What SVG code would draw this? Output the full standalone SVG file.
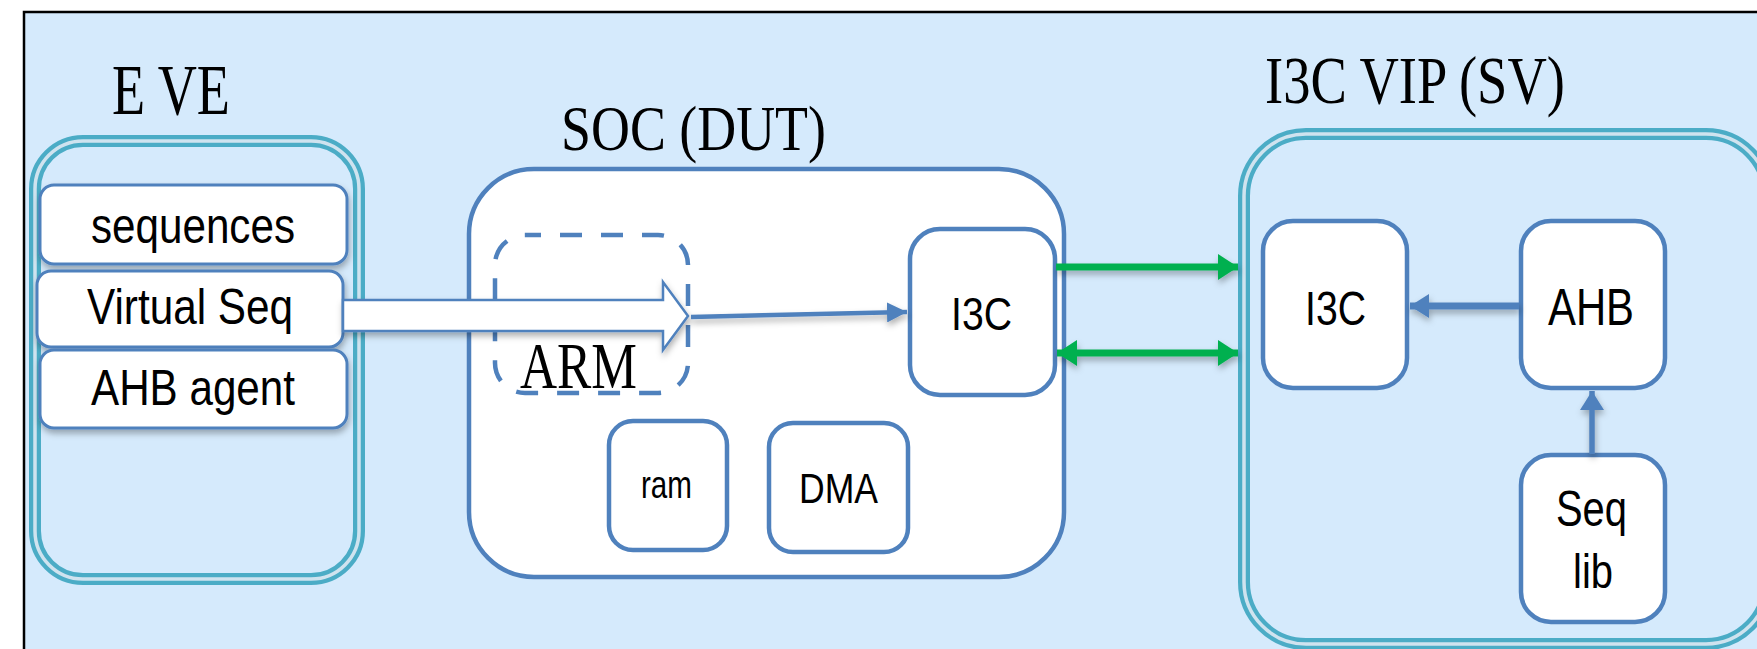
<svg xmlns="http://www.w3.org/2000/svg" width="1757" height="649" viewBox="0 0 1757 649">
<defs>
<style>
.serif{font-family:"Liberation Serif","Times New Roman",serif;fill:#000}
.sans{font-family:"Liberation Sans",Arial,sans-serif;fill:#000}
.box{fill:#fff;stroke:#4f81bd;stroke-width:4.5}
.ebox{fill:#fff;stroke:#4f81bd;stroke-width:3}
.bandO{fill:none;stroke:#4bacc6;stroke-width:12}
.bandI{fill:none;stroke:#cfe3ef;stroke-width:3.5}
.green{stroke:#00b050;stroke-width:7;fill:none}
.blue{stroke:#4f81bd;fill:none}
</style>
<filter id="sh" filterUnits="userSpaceOnUse" x="0" y="0" width="1757" height="649">
<feDropShadow dx="1" dy="4" stdDeviation="3" flood-color="#000" flood-opacity="0.3"/>
</filter>
<marker id="gh" markerUnits="userSpaceOnUse" markerWidth="20" markerHeight="26" refX="20" refY="13" orient="auto-start-reverse">
<path d="M0,0 L20,13 L0,26 z" fill="#00b050"/>
</marker>
<marker id="bh" markerUnits="userSpaceOnUse" markerWidth="20" markerHeight="20" refX="20" refY="10" orient="auto">
<path d="M0,0 L20,10 L0,20 z" fill="#4f81bd"/>
</marker>
<marker id="bh2" markerUnits="userSpaceOnUse" markerWidth="19" markerHeight="24" refX="19" refY="12" orient="auto">
<path d="M0,0 L19,12 L0,24 z" fill="#4f81bd"/>
</marker>
</defs>

<rect x="24" y="12" width="1760" height="660" fill="#d5eafc" stroke="#000" stroke-width="2.5"/>

<g id="eve">
<rect class="bandO" x="35" y="141" width="324" height="438" rx="48"/>
<rect class="bandI" x="35" y="141" width="324" height="438" rx="48"/>
<text class="serif" x="112" y="114" font-size="72" textLength="118" lengthAdjust="spacingAndGlyphs">E VE</text>
</g>
<g id="eve-sequences">
<rect class="ebox" x="40" y="185" width="307" height="79" rx="14" filter="url(#sh)"/>
<text class="sans" x="91" y="243" font-size="50" textLength="204" lengthAdjust="spacingAndGlyphs">sequences</text>
</g>
<g id="eve-virtualseq">
<rect class="ebox" x="37" y="271" width="306" height="76" rx="14" filter="url(#sh)"/>
<text class="sans" x="87" y="324" font-size="50" textLength="206" lengthAdjust="spacingAndGlyphs">Virtual Seq</text>
</g>
<g id="eve-ahbagent">
<rect class="ebox" x="40" y="350" width="307" height="78" rx="14" filter="url(#sh)"/>
<text class="sans" x="91" y="405" font-size="50" textLength="204" lengthAdjust="spacingAndGlyphs">AHB agent</text>
</g>

<g id="soc">
<rect class="box" x="469" y="169" width="595" height="408" rx="65" stroke-width="5"/>
<text class="serif" x="561" y="150" font-size="63" textLength="265" lengthAdjust="spacingAndGlyphs">SOC (DUT)</text>
</g>
<g id="soc-arm">
<rect x="495" y="235" width="193" height="158" rx="30" fill="none" stroke="#4f81bd" stroke-width="4.5" stroke-dasharray="22 19" stroke-dashoffset="6"/>
<text class="serif" x="520" y="388" font-size="65" textLength="117" lengthAdjust="spacingAndGlyphs">ARM</text>
</g>
<g id="soc-i3c">
<rect class="box" x="910" y="229" width="145" height="166" rx="30"/>
<text class="sans" x="951" y="330" font-size="46" textLength="61" lengthAdjust="spacingAndGlyphs">I3C</text>
</g>
<g id="soc-ram">
<rect class="box" x="609" y="421" width="118" height="129" rx="24"/>
<text class="sans" x="641" y="498" font-size="39" textLength="51" lengthAdjust="spacingAndGlyphs">ram</text>
</g>
<g id="soc-dma">
<rect class="box" x="769" y="423" width="139" height="129" rx="24"/>
<text class="sans" x="799" y="503" font-size="43" textLength="79" lengthAdjust="spacingAndGlyphs">DMA</text>
</g>

<g id="vip">
<rect class="bandO" x="1244" y="134" width="524" height="510" rx="62"/>
<rect class="bandI" x="1244" y="134" width="524" height="510" rx="62"/>
<text class="serif" x="1265" y="103" font-size="68" textLength="300" lengthAdjust="spacingAndGlyphs">I3C VIP (SV)</text>
</g>
<g id="vip-i3c">
<rect class="box" x="1263" y="221" width="144" height="167" rx="30"/>
<text class="sans" x="1305" y="325" font-size="49" textLength="61" lengthAdjust="spacingAndGlyphs">I3C</text>
</g>
<g id="vip-ahb">
<rect class="box" x="1521" y="221" width="144" height="167" rx="30"/>
<text class="sans" x="1548" y="325" font-size="51" textLength="86" lengthAdjust="spacingAndGlyphs">AHB</text>
</g>
<g id="vip-seqlib">
<rect class="box" x="1521" y="455" width="144" height="167" rx="30"/>
<text class="sans" x="1556" y="526" font-size="50" textLength="71" lengthAdjust="spacingAndGlyphs">Seq</text>
<text class="sans" x="1573" y="588" font-size="49" textLength="40" lengthAdjust="spacingAndGlyphs">lib</text>
</g>

<g id="connectors" filter="url(#sh)">
<polygon points="343,300 663,300 663,282 688,316 663,350 663,331 343,331" fill="#fff" stroke="#4f81bd" stroke-width="2.5" stroke-linejoin="miter"/>
<line class="blue" x1="691" y1="317" x2="907" y2="312" stroke-width="4.5" marker-end="url(#bh)"/>
<line class="green" x1="1056" y1="267" x2="1238" y2="267" marker-end="url(#gh)"/>
<line class="green" x1="1057" y1="353" x2="1238" y2="353" marker-start="url(#gh)" marker-end="url(#gh)"/>
<line class="blue" x1="1519" y1="306" x2="1410" y2="306" stroke-width="7" marker-end="url(#bh2)"/>
<line class="blue" x1="1592" y1="454" x2="1592" y2="391" stroke-width="5.5" marker-end="url(#bh2)"/>
</g>
</svg>
